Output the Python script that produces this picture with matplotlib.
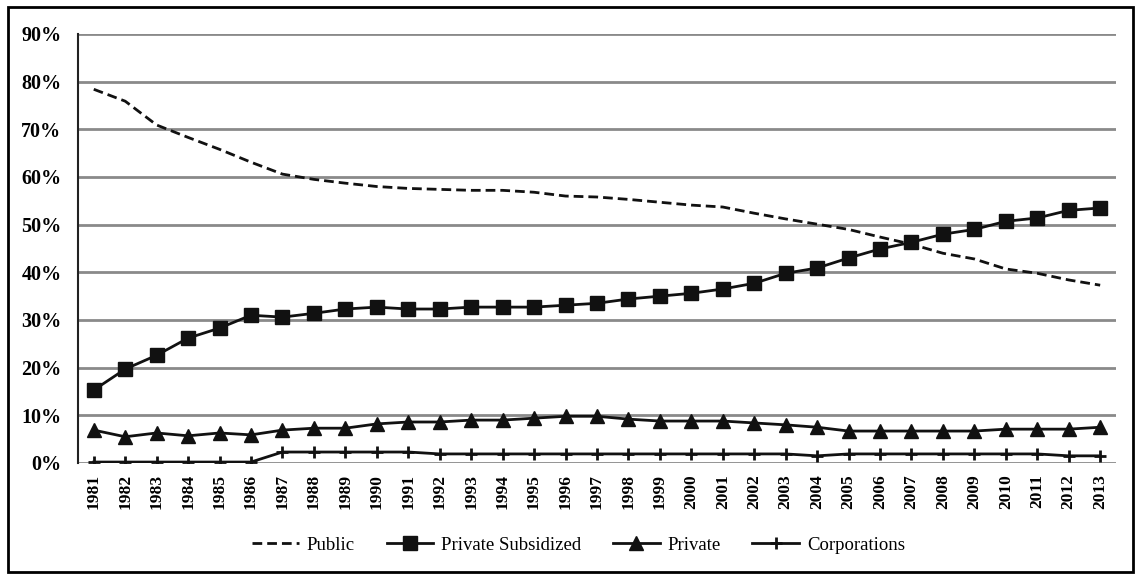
import matplotlib.pyplot as plt
from matplotlib.patches import Rectangle
from matplotlib.ticker import FuncFormatter

years = [str(y) for y in range(1981, 2014)]

public = [78.4, 75.9, 70.9, 68.3, 65.8, 63.1, 60.6, 59.5, 58.7, 58.0, 57.6,
          57.4, 57.2, 57.2, 56.8, 56.0, 55.8, 55.3, 54.7, 54.1, 53.7, 52.4,
          51.2, 50.1, 49.0, 47.4, 45.9, 44.0, 42.8, 40.7, 39.8, 38.4, 37.3]
private_subsidized = [15.3, 19.7, 22.6, 26.2, 28.3, 31.0, 30.6, 31.4, 32.3, 32.7, 32.3,
                      32.3, 32.7, 32.7, 32.7, 33.1, 33.5, 34.4, 35.0, 35.6, 36.5, 37.7,
                      39.8, 40.9, 43.0, 44.9, 46.3, 48.0, 49.0, 50.7, 51.4, 53.0, 53.5]
private = [6.9, 5.5, 6.3, 5.7, 6.3, 5.9, 6.9, 7.3, 7.3, 8.2, 8.6,
           8.6, 9.0, 9.0, 9.4, 9.8, 9.8, 9.2, 8.8, 8.8, 8.8, 8.4,
           8.0, 7.5, 6.7, 6.7, 6.7, 6.7, 6.7, 7.1, 7.1, 7.1, 7.5]
corporations = [0.2, 0.2, 0.2, 0.2, 0.2, 0.2, 2.3, 2.3, 2.3, 2.3, 2.3,
                1.9, 1.9, 1.9, 1.9, 1.9, 1.9, 1.9, 1.9, 1.9, 1.9, 1.9,
                1.9, 1.5, 1.9, 1.9, 1.9, 1.9, 1.9, 1.9, 1.9, 1.5, 1.5]

plt.rcParams['font.family'] = ['Liberation Serif', 'DejaVu Serif']

fig = plt.figure(figsize=(11.41, 5.75), dpi=100)
ax = fig.add_axes([0.0684, 0.1948, 0.9096, 0.7461])

x = list(range(len(years)))
ax.plot(x, public, color='#111111', lw=2, ls=(0, (3.5, 1.8)), label='Public')
ax.plot(x, private_subsidized, color='#111111', lw=2, marker='s', ms=10,
        label='Private Subsidized')
ax.plot(x, private, color='#111111', lw=2, marker='^', ms=10, label='Private')
ax.plot(x, corporations, color='#111111', lw=2, marker='+', ms=8, mew=2,
        label='Corporations')

ax.set_xlim(-0.5, len(years) - 0.5)
ax.set_ylim(0, 90)
ax.set_yticks(range(0, 91, 10))
ax.yaxis.set_major_formatter(FuncFormatter(lambda v, p: f"{int(v)}%"))
ax.set_xticks(x)
ax.set_xticklabels(years, rotation=90, fontweight='bold', fontsize=12.5)
for lab in ax.get_yticklabels():
    lab.set_fontweight('bold')
    lab.set_fontsize(14.5)
ax.tick_params(length=0, pad=8)
ax.tick_params(axis='y', pad=12)

ax.grid(axis='y', color='#8a8a8a', lw=2)
ax.set_axisbelow(True)
for s in ['top', 'right', 'bottom']:
    ax.spines[s].set_visible(False)
ax.spines['left'].set_color('#222222')
ax.spines['left'].set_linewidth(1.5)

fig.legend(loc='center', bbox_to_anchor=(0.507, 0.052), ncol=4, frameon=False,
           fontsize=13.5, handlelength=2.5, handletextpad=0.4, columnspacing=1.7)

fig.patches.append(Rectangle((0.007, 0.006), 0.986, 0.981, transform=fig.transFigure,
                             fill=False, edgecolor='black', lw=2))

fig.savefig('out.png', dpi=100)
